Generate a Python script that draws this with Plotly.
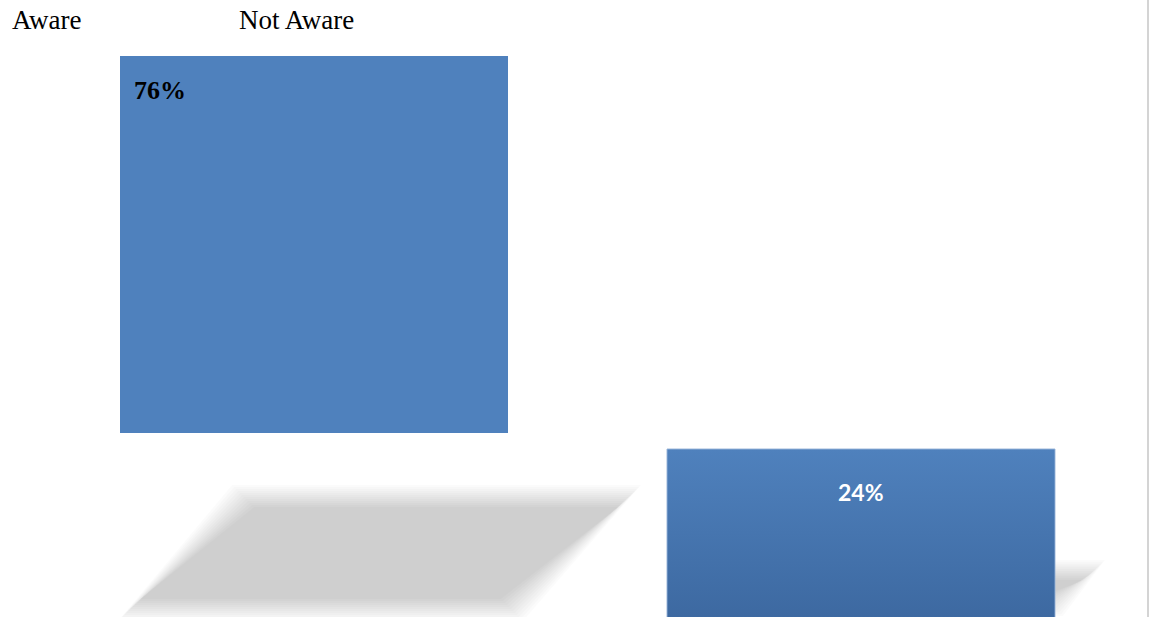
import plotly.graph_objects as go

# ---- data ----
categories = ["Aware", "Not Aware"]
values = [76, 24]
labels = [f"{v}%" for v in values]

# ---- layout geometry (pixels) ----
W, H = 1149, 617
UNIT_X = 547.0          # px between category centres
X0_PX = 314.0           # px of first category centre
BAR_W = 388.0 / UNIT_X  # bar width in axis units

# y-axis 1 (Aware bar): value 0 at px 433, value 76 at px 56
B1_BOTTOM_PX, B1_TOP_PX = 433.0, 56.0
s1 = (B1_BOTTOM_PX - B1_TOP_PX) / values[0]
y1_range = [-(H - B1_BOTTOM_PX) / s1, B1_BOTTOM_PX / s1]

# y-axis 2 (Not Aware bar): top at px 449, base falls below the visible area
B2_TOP_PX, B2_BASE_PX = 449.0, 700.0
s2 = (B2_BASE_PX - B2_TOP_PX) / values[1]
y2_range = [values[1] - (H - B2_TOP_PX) / s2, values[1] + B2_TOP_PX / s2]

x_range = [-X0_PX / UNIT_X, (W - X0_PX) / UNIT_X]


def xp(px):
    return px / W


def yp(py):
    return 1 - py / H


def x_px(v):
    return (v - x_range[0]) * UNIT_X


BLUE = "#4F81BD"

fig = go.Figure()

# Aware bar
fig.add_trace(go.Bar(x=[0], y=[values[0]], width=BAR_W, marker=dict(color=BLUE, line=dict(width=0)),
                     yaxis="y", hoverinfo="skip", name=categories[0]))
# Not Aware bar
fig.add_trace(go.Bar(x=[1], y=[values[1]], width=BAR_W, marker=dict(color=BLUE, line=dict(width=0)),
                     yaxis="y2", hoverinfo="skip", name=categories[1]))
# gradient overlay for the Not Aware bar (same geometry as the bar)
xl, xr = 1 - BAR_W / 2, 1 + BAR_W / 2
fig.add_trace(go.Scatter(
    x=[xl, xr, xr, xl, xl], y=[0, 0, values[1], values[1], 0], yaxis="y2",
    mode="lines", fill="toself",
    line=dict(color="rgba(150,178,216,0.9)", width=1),
    fillgradient=dict(type="vertical", colorscale=[[0, "#3D69A1"], [1, "#4F81BD"]],
                      start=y2_range[0], stop=values[1]),
    hoverinfo="skip", showlegend=False))

shapes = []


def soft_parallelogram(tl, tr, br, bl, layers=12, spread=11.0, core_dark=0.17):
    a = 1 - (1 - core_dark) ** (1.0 / layers)
    out = []
    for i in range(layers):
        d = -spread + 2 * spread * i / max(layers - 1, 1)
        pts = [(tl[0] - d, tl[1] - d), (tr[0] + d, tr[1] - d), (br[0] + d, br[1] + d), (bl[0] - d, bl[1] + d)]
        path = "M " + " L ".join(f"{xp(px):.5f},{yp(py):.5f}" for px, py in pts) + " Z"
        out.append(dict(type="path", path=path, xref="paper", yref="paper", layer="below",
                        fillcolor=f"rgba(0,0,0,{a:.4f})", line=dict(width=0)))
    return out


# shadow under Aware bar
b1l = x_px(0 - BAR_W / 2)
b1r = x_px(0 + BAR_W / 2)
shapes += soft_parallelogram((b1l + 123, B1_BOTTOM_PX + 63), (b1r + 122, B1_BOTTOM_PX + 63),
                             (b1r + 4, B1_BOTTOM_PX + 177), (b1l + 9, B1_BOTTOM_PX + 177))
# shadow under Not Aware bar (mostly hidden)
b2r = x_px(1 + BAR_W / 2)
shapes += soft_parallelogram((b2r - 300, 570), (b2r + 40, 570), (b2r - 2, 606), (b2r - 340, 606),
                             layers=12, spread=10.0, core_dark=0.17)

# right border line
shapes.append(dict(type="line", xref="paper", yref="paper", x0=xp(1148), x1=xp(1148), y0=0, y1=1,
                   line=dict(color="#D4D4D4", width=2)))

annotations = [
    dict(text=categories[0], x=xp(10), y=yp(20), xref="paper", yref="paper", xanchor="left", yanchor="middle",
         showarrow=False, font=dict(family="Liberation Serif", size=27, color="#000000")),
    dict(text=categories[1], x=xp(237), y=yp(20), xref="paper", yref="paper", xanchor="left", yanchor="middle",
         showarrow=False, font=dict(family="Liberation Serif", size=27, color="#000000")),
    dict(text=f"<b>{labels[0]}</b>", x=0 - BAR_W / 2, y=values[0], xref="x", yref="y",
         xanchor="left", yanchor="middle", xshift=12, yshift=-(90 - B1_TOP_PX),
         showarrow=False, font=dict(family="Liberation Serif", size=26, color="#000000")),
    dict(text=f"<b>{labels[1]}</b>", x=1, y=values[1], xref="x", yref="y2",
         xanchor="center", yanchor="middle", yshift=-(492 - B2_TOP_PX),
         showarrow=False, font=dict(family="Lato", size=23, color="#FFFFFF", weight=900)),
]

fig.update_layout(
    width=W, height=H,
    margin=dict(l=0, r=0, t=0, b=0),
    paper_bgcolor="white", plot_bgcolor="white",
    showlegend=False, barmode="overlay",
    xaxis=dict(range=x_range, visible=False, fixedrange=True),
    yaxis=dict(range=y1_range, visible=False, fixedrange=True),
    yaxis2=dict(range=y2_range, visible=False, overlaying="y", fixedrange=True),
    shapes=shapes, annotations=annotations,
)

fig.write_html("out.html")
